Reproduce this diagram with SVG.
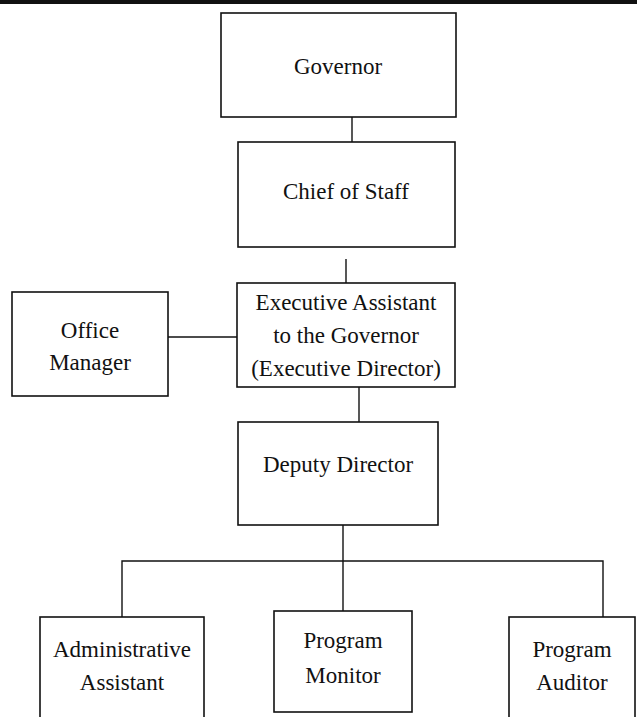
<svg xmlns="http://www.w3.org/2000/svg" width="637" height="717" viewBox="0 0 637 717">
  <style>
    .box { fill: #fff; stroke: #111; stroke-width: 1.6; }
    .lbl { font-family: "Liberation Serif", "Times New Roman", serif; font-size: 23px; fill: #111; text-anchor: middle; }
    .link { stroke: #111; stroke-width: 1.4; fill: none; }
  </style>
  <rect width="637" height="717" fill="#fff"/>
  <!-- top edge bar -->
  <rect x="0" y="0" width="637" height="4" fill="#111"/>

  <g id="governor">
    <rect class="box" x="221" y="13" width="235" height="104"/>
    <text class="lbl" x="338" y="74">Governor</text>
  </g>
  <g id="chief-of-staff">
    <rect class="box" x="238" y="142" width="217" height="105"/>
    <text class="lbl" x="346" y="199">Chief of Staff</text>
  </g>
  <g id="executive-assistant">
    <rect class="box" x="237" y="283" width="218" height="104"/>
    <text class="lbl" x="346" y="310">Executive Assistant</text>
    <text class="lbl" x="346" y="343">to the Governor</text>
    <text class="lbl" x="346" y="376">(Executive Director)</text>
  </g>
  <g id="office-manager">
    <rect class="box" x="12" y="292" width="156" height="104"/>
    <text class="lbl" x="90" y="338">Office</text>
    <text class="lbl" x="90" y="370">Manager</text>
  </g>
  <g id="deputy-director">
    <rect class="box" x="238" y="422" width="200" height="103"/>
    <text class="lbl" x="338" y="472">Deputy Director</text>
  </g>
  <g id="administrative-assistant">
    <rect class="box" x="40" y="617" width="164" height="110"/>
    <text class="lbl" x="122" y="657">Administrative</text>
    <text class="lbl" x="122" y="690">Assistant</text>
  </g>
  <g id="program-monitor">
    <rect class="box" x="274" y="611" width="138" height="101"/>
    <text class="lbl" x="343" y="648">Program</text>
    <text class="lbl" x="343" y="683">Monitor</text>
  </g>
  <g id="program-auditor">
    <rect class="box" x="509" y="617" width="126" height="110"/>
    <text class="lbl" x="572" y="657">Program</text>
    <text class="lbl" x="572" y="690">Auditor</text>
  </g>

  <g id="connectors">
    <line class="link" x1="352" y1="117" x2="352" y2="142"/>
    <line class="link" x1="346" y1="259" x2="346" y2="283"/>
    <line class="link" x1="168" y1="337" x2="237" y2="337"/>
    <line class="link" x1="359" y1="387" x2="359" y2="422"/>
    <line class="link" x1="343" y1="525" x2="343" y2="611"/>
    <polyline class="link" points="122,617 122,561 603,561 603,617"/>
  </g>
</svg>
